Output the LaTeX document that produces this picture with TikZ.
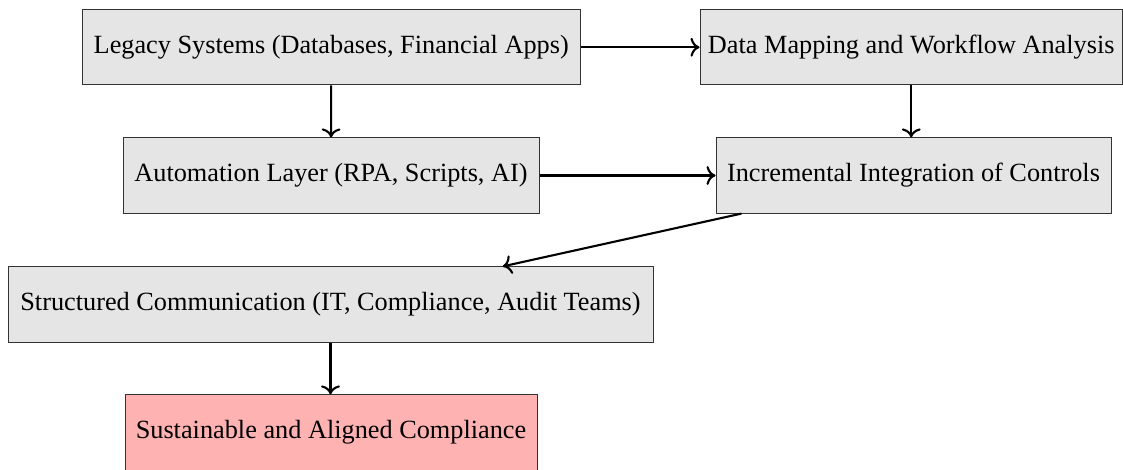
\documentclass[tikz,border=0pt]{standalone}
\usepackage{fontspec}
\setmainfont{Liberation Serif}
\usetikzlibrary{arrows.meta}
\begin{document}
\begin{tikzpicture}[
  x=0.5pt, y=-0.5pt,
  box/.style={draw=black!80, line width=0.5pt, fill=gray!20, inner sep=0pt,
    minimum height=37.6pt, font=\fontsize{13.14}{15}\selectfont},
  goal/.style={box, fill=red!30},
  flow/.style={-{To[scale=1.15]}, line width=1.05pt}
]
\useasboundingbox (0,0) rectangle (1123,470);

\node[box, minimum width=248.75pt] (legacy) at (331.25,47.25)
  {Legacy Systems (Databases, Financial Apps)};
\node[box, minimum width=211.25pt] (mapping) at (911.25,47.25)
  {Data Mapping and Workflow Analysis};
\node[box, minimum width=208pt] (automation) at (331,175.5)
  {Automation Layer (RPA, Scripts, AI)};
\node[box, minimum width=197.5pt] (controls) at (913.5,175.5)
  {Incremental Integration of Controls};
\node[box, minimum width=322.5pt] (comm) at (330.5,304.5)
  {Structured Communication (IT, Compliance, Audit Teams)};
\node[goal, minimum width=206pt] (goalnode) at (331,432.5)
  {Sustainable and Aligned Compliance};

\draw[flow] (legacy) -- (mapping);
\draw[flow] (legacy) -- (automation);
\draw[flow] (mapping.south) -- (mapping.south |- controls.north);
\draw[flow] (automation) -- (controls);
\draw[flow] (controls) -- (comm);
\draw[flow] (comm.south) -- (comm.south |- goalnode.north);
\end{tikzpicture}
\end{document}
